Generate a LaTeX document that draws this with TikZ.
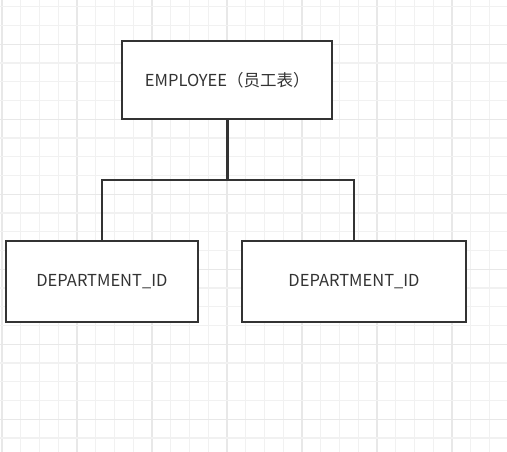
\documentclass[tikz,border=0pt]{standalone}
\usepackage{fontspec}
\setmainfont{Noto Sans CJK SC}
\usepackage{tikz}

\definecolor{linegray}{HTML}{333333}
\definecolor{gridminor}{HTML}{F1F1F1}
\definecolor{gridmajor}{HTML}{E8E8E8}

\begin{document}
\begin{tikzpicture}[x=1pt,y=-1pt,
    box/.style={draw=linegray, line width=2pt, fill=white, text=linegray,
      inner sep=0pt, font=\fontsize{16.5}{20}\selectfont},
    link/.style={draw=linegray, line width=2pt}]
    % Размер холста
    \def\picw{507}
    \def\pich{452}
    \useasboundingbox (0,0) rectangle (\picw,\pich);
    \fill[white] (0,0) rectangle (\picw,\pich);

    % Сетка
    \foreach \i in {0,...,27}
    {
        \pgfmathsetmacro{\gx}{2+18.75*\i}
        \pgfmathtruncatemacro{\major}{mod(\i,4)==0}
        \ifnum\major=1
            \draw[gridmajor, line width=1.2pt] (\gx,0) -- (\gx,\pich);
        \else
            \draw[gridminor, line width=1.2pt] (\gx,0) -- (\gx,\pich);
        \fi
    }
    \foreach \j in {0,...,23}
    {
        \pgfmathsetmacro{\gy}{6.7+18.75*\j}
        \pgfmathtruncatemacro{\major}{mod(\j,4)==2}
        \ifnum\major=1
            \draw[gridmajor, line width=1.2pt] (0,\gy) -- (\picw,\gy);
        \else
            \draw[gridminor, line width=1.2pt] (0,\gy) -- (\picw,\gy);
        \fi
    }

    % Таблицы
    \node[box, minimum width=210pt, minimum height=78pt] (emp) at (227.3,80.3) {EMPLOYEE（员工表）};
    \node[box, minimum width=191.7pt, minimum height=81pt] (dep1) at (101.9,281.5) {DEPARTMENT\_ID};
    \node[box, minimum width=223.4pt, minimum height=81pt] (dep2) at (354,281.5) {DEPARTMENT\_ID};

    % Связи
    \coordinate (bus) at (227.3,180);
    \draw[link, line width=3pt] (emp.south) -- (bus);
    \draw[link] (dep1.north) |- (bus) -| (dep2.north);
\end{tikzpicture}
\end{document}
